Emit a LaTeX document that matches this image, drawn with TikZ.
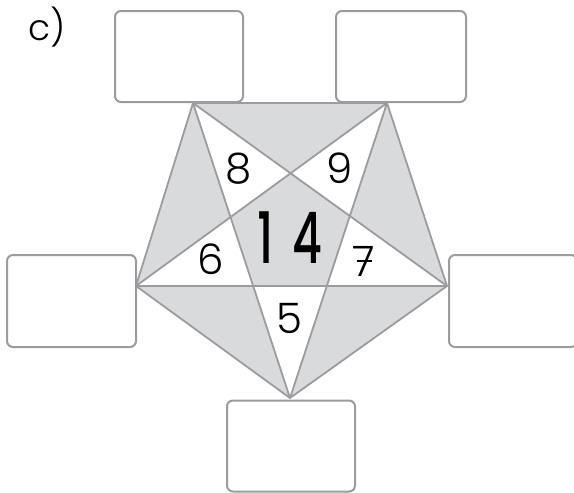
\documentclass[tikz,border=0pt]{standalone}
\usepackage{fontspec}
\setmainfont{Poppins}[UprightFont=* Light, BoldFont=* Medium]
\definecolor{linegrey}{HTML}{9C9CA0}
\definecolor{fillgrey}{HTML}{D9DADC}
\begin{document}
\begin{tikzpicture}[x=1pt,y=-1pt,
  answerbox/.style={draw=linegrey, line width=2pt, rounded corners=6pt, fill=white, inner sep=0pt},
  starline/.style={draw=linegrey, line width=1.8pt, line join=round, line cap=round},
  digit/.style={inner sep=0pt, font=\fontsize{42}{42}\selectfont},
  bigdigit/.style={inner sep=0pt, font=\fontsize{71}{71}\selectfont\bfseries}]
\useasboundingbox (0,0) rectangle (574,493);
\clip (0,0) rectangle (574,493);
% vertices
\coordinate (A) at (193,103);
\coordinate (B) at (387,103);
\coordinate (C) at (447,286);
\coordinate (D) at (290,398);
\coordinate (E) at (136,286);
% fills
\fill[fillgrey] (A) -- (B) -- (C) -- (D) -- (E) -- cycle;
\fill[white, even odd rule] (A) -- (C) -- (E) -- (B) -- (D) -- cycle;
% lines
\draw[starline] (A) -- (B) -- (C) -- (D) -- (E) -- cycle;
\draw[starline] (A) -- (C) -- (E) -- (B) -- (D) -- cycle;
% boxes
\node[answerbox, minimum width=128pt, minimum height=91pt] (boxTL) at (179,56.5) {};
\node[answerbox, minimum width=130pt, minimum height=91pt] (boxTR) at (401,56.5) {};
\node[answerbox, minimum width=129pt, minimum height=92pt] (boxL) at (71.5,301) {};
\node[answerbox, minimum width=128pt, minimum height=92pt] (boxR) at (513,301) {};
\node[answerbox, minimum width=128pt, minimum height=91pt] (boxB) at (291,446) {};
% labels
\node[inner sep=0pt, font=\fontsize{36}{36}\selectfont] (lab) at (47,27) {c)};
\node[digit] (n8) at (239,168.5) {8};
\node[digit] (n9) at (340,168.5) {9};
\node[digit] (n6) at (211,259) {6};
\node[digit] (n7) at (364,261) {7};
\node[digit] (n5) at (289,318) {5};
\node[bigdigit, xscale=0.65] (n14) at (290,238) {1\kern28pt4};
\draw[black, line width=1.8pt] ([xshift=-7pt]n7.center) -- ([xshift=8pt]n7.center);
\end{tikzpicture}
\end{document}
